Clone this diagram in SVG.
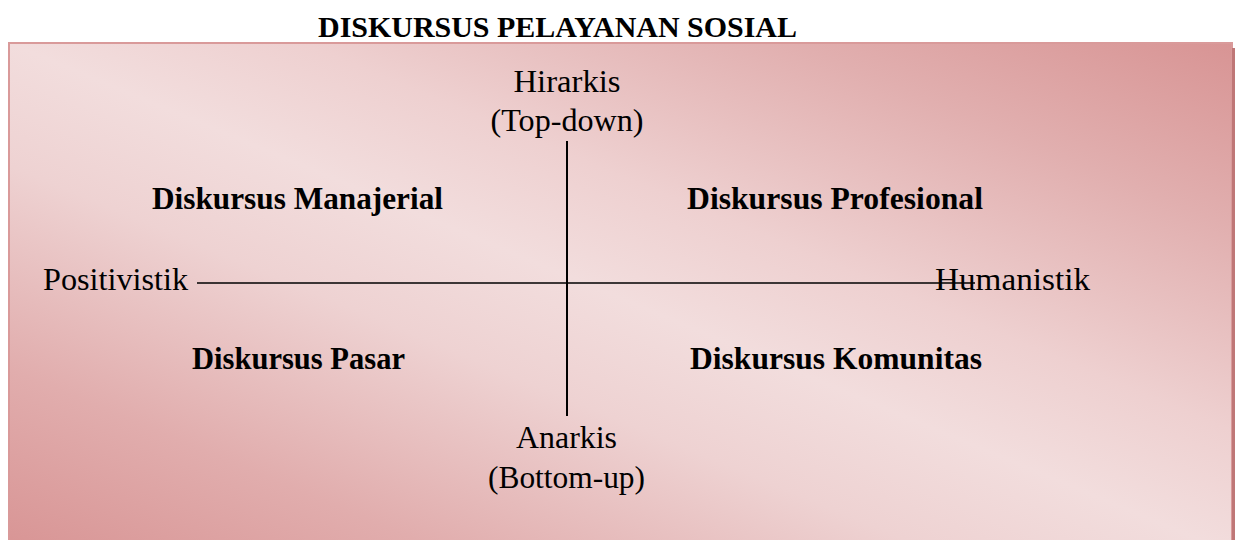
<svg xmlns="http://www.w3.org/2000/svg" width="1235" height="540" viewBox="0 0 1235 540">
  <defs>
    <!-- diagonal pink wash: dark at top-right and bottom-left corners, pale through the middle -->
    <linearGradient id="wash" x1="1" y1="0" x2="0" y2="1">
      <stop offset="0" stop-color="#d89494"/>
      <stop offset="0.18" stop-color="#e1afaf"/>
      <stop offset="0.38" stop-color="#eed0d0"/>
      <stop offset="0.5" stop-color="#f2dddd"/>
      <stop offset="0.62" stop-color="#eed2d2"/>
      <stop offset="0.82" stop-color="#e1adad"/>
      <stop offset="1" stop-color="#d89494"/>
    </linearGradient>
    <style>
      .title { font-family: "Liberation Serif", "Times New Roman", serif; font-weight: bold; font-size: 30px; fill: #000; }
      .quad { font-family: "Liberation Serif", "Times New Roman", serif; font-weight: bold; font-size: 31px; fill: #000; }
      .pole { font-family: "Liberation Serif", "Times New Roman", serif; font-size: 32px; fill: #000; }
      .axis { stroke: #000; fill: none; }
    </style>
  </defs>

  <rect width="1235" height="540" fill="#ffffff"/>

  <!-- heading -->
  <text class="title" x="557.5" y="37" text-anchor="middle" textLength="479" lengthAdjust="spacingAndGlyphs">DISKURSUS PELAYANAN SOSIAL</text>

  <!-- background panel -->
  <g id="panel">
    <rect x="9" y="43" width="1223" height="510" fill="url(#wash)" stroke="#d99a9a" stroke-width="2"/>
    <line x1="1233.5" y1="48" x2="1233.5" y2="540" stroke="#bf7777" stroke-width="3"/>
  </g>

  <!-- axes -->
  <g id="connectors">
    <line class="axis" x1="567" y1="141" x2="567" y2="416" stroke-width="2"/>
    <line class="axis" x1="197" y1="283" x2="975" y2="283" stroke-width="1.6"/>
  </g>

  <!-- axis poles -->
  <g id="pole-top">
    <text class="pole" x="567" y="92" text-anchor="middle" textLength="107" lengthAdjust="spacingAndGlyphs">Hirarkis</text>
    <text class="pole" x="567" y="131" text-anchor="middle" textLength="153" lengthAdjust="spacingAndGlyphs">(Top-down)</text>
  </g>
  <g id="pole-bottom">
    <text class="pole" x="566.5" y="448" text-anchor="middle" textLength="101" lengthAdjust="spacingAndGlyphs">Anarkis</text>
    <text class="pole" x="566.5" y="488" text-anchor="middle" textLength="157" lengthAdjust="spacingAndGlyphs">(Bottom-up)</text>
  </g>
  <g id="pole-left">
    <text class="pole" x="43" y="290" textLength="145" lengthAdjust="spacingAndGlyphs">Positivistik</text>
  </g>
  <g id="pole-right">
    <text class="pole" x="935" y="290" textLength="155" lengthAdjust="spacingAndGlyphs">Humanistik</text>
  </g>

  <!-- quadrants -->
  <g id="q-manajerial">
    <text class="quad" x="297.5" y="209" text-anchor="middle" textLength="291" lengthAdjust="spacingAndGlyphs">Diskursus Manajerial</text>
  </g>
  <g id="q-profesional">
    <text class="quad" x="835" y="209" text-anchor="middle" textLength="296" lengthAdjust="spacingAndGlyphs">Diskursus Profesional</text>
  </g>
  <g id="q-pasar">
    <text class="quad" x="298.5" y="369" text-anchor="middle" textLength="213" lengthAdjust="spacingAndGlyphs">Diskursus Pasar</text>
  </g>
  <g id="q-komunitas">
    <text class="quad" x="836" y="369" text-anchor="middle" textLength="292" lengthAdjust="spacingAndGlyphs">Diskursus Komunitas</text>
  </g>
</svg>
